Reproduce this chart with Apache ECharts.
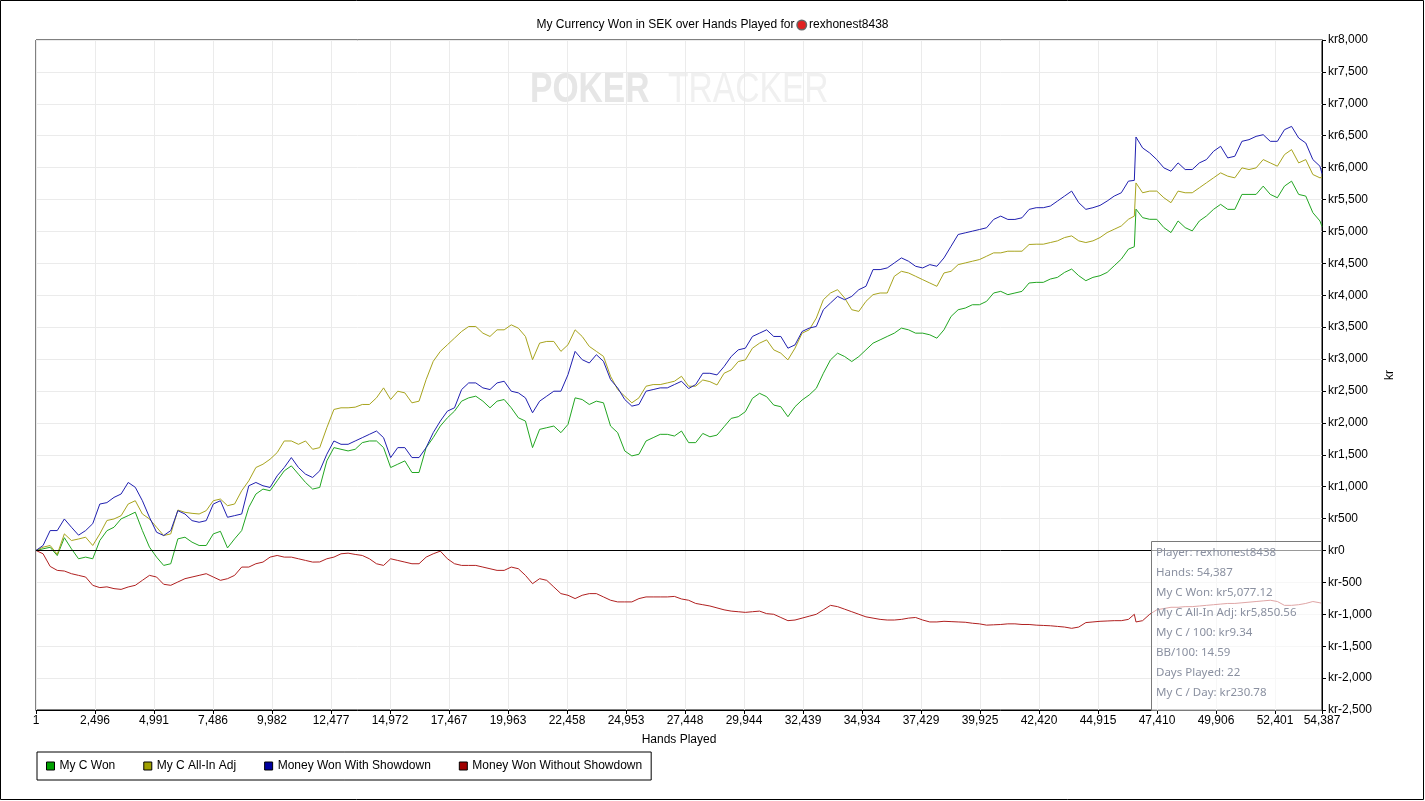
<!DOCTYPE html>
<html>
<head>
<meta charset="utf-8">
<script src="https://cdn.jsdelivr.net/npm/echarts@6/dist/echarts.min.js"></script>
<style>
html,body{margin:0;padding:0;background:#fff;}
#chart{width:1425px;height:801px;}
</style>
</head>
<body>
<div id="chart"></div>
<script>
const hands = [
1,300,600,900,1200,1500,1800,2100,2400,2700,
3000,3300,3600,3900,4200,4500,4800,5100,5400,5700,
6000,6300,6600,6900,7200,7500,7800,8100,8400,8700,
9000,9300,9600,9900,10200,10500,10800,11100,11400,11700,
12000,12300,12600,12900,13200,13500,13800,14100,14400,14700,
15000,15300,15600,15900,16200,16500,16800,17100,17400,17700,
18000,18300,18600,18900,19200,19500,19800,20100,20400,20700,
21000,21300,21600,21900,22200,22500,22800,23100,23400,23700,
24000,24300,24600,24900,25200,25500,25800,26100,26400,26700,
27000,27300,27600,27900,28200,28500,28800,29100,29400,29700,
30000,30300,30600,30900,31200,31500,31800,32100,32400,32700,
33000,33300,33600,33900,34200,34500,34800,35100,35400,35700,
36000,36300,36600,36900,37200,37500,37800,38100,38400,38700,
39000,39300,39600,39900,40200,40500,40800,41100,41400,41700,
42000,42300,42600,42900,43200,43500,43800,44100,44400,44700,
45000,45300,45600,45900,46200,46450,46520,46800,47100,47400,
47700,48000,48300,48600,48900,49200,49500,49800,50100,50400,
50700,51000,51300,51600,51900,52200,52500,52800,53100,53400,
53700,54000,54300,54387];

const myCWon = [
0,26,50,-80,200,26,-130,-104,-130,156,
310,364,495,546,600,312,52,-104,-234,-208,
182,208,130,78,78,260,300,40,182,312,
676,884,962,936,1092,1248,1326,1196,1066,962,
988,1404,1612,1586,1560,1586,1690,1716,1716,1612,
1300,1352,1404,1222,1222,1612,1768,1950,2080,2184,
2340,2392,2418,2340,2236,2340,2366,2236,2080,2028,
1612,1898,1924,1950,1846,1976,2392,2366,2288,2340,
2314,1950,1846,1560,1482,1508,1716,1768,1820,1820,
1794,1872,1690,1690,1834,1782,1808,1939,2070,2096,
2175,2384,2463,2410,2279,2253,2096,2253,2358,2437,
2541,2777,2987,3092,3039,2961,3039,3144,3249,3301,
3354,3406,3485,3458,3406,3406,3380,3327,3458,3668,
3773,3799,3851,3851,3904,4035,4061,4009,4035,4061,
4192,4202,4202,4254,4280,4358,4410,4306,4228,4280,
4306,4358,4462,4566,4722,4760,5350,5216,5190,5190,
5060,4982,5164,5060,5008,5164,5242,5346,5424,5346,
5346,5580,5580,5580,5710,5580,5528,5710,5788,5580,
5554,5294,5164,5077];

const allInAdj = [
0,52,78,-60,260,156,180,208,78,260,
470,494,545,728,780,572,494,364,234,260,
634,598,582,572,624,780,806,702,728,936,
1092,1300,1352,1430,1534,1716,1716,1664,1716,1586,
1612,1924,2210,2236,2236,2246,2288,2288,2392,2548,
2366,2496,2470,2314,2340,2678,2964,3120,3224,3328,
3432,3510,3510,3406,3354,3458,3458,3536,3484,3354,
2990,3250,3276,3276,3120,3224,3458,3354,3198,3120,
3042,2730,2522,2418,2314,2392,2574,2600,2600,2626,
2652,2730,2574,2574,2672,2646,2594,2777,2830,2961,
2987,3170,3249,3301,3144,3092,2987,3170,3406,3458,
3642,3930,4035,4087,3956,3773,3747,3904,4009,4035,
4035,4297,4375,4349,4297,4244,4192,4140,4349,4375,
4480,4506,4533,4559,4611,4664,4664,4690,4690,4690,
4795,4800,4800,4826,4852,4904,4930,4852,4826,4852,
4904,4982,5034,5086,5190,5240,5760,5606,5632,5632,
5528,5450,5632,5606,5606,5684,5762,5840,5918,5866,
5840,5996,5970,5996,6126,6074,6022,6204,6282,6074,
6126,5892,5840,5850];

const withShowdown = [
0,78,312,312,494,364,240,312,420,728,
750,832,885,1066,990,780,520,286,234,312,
624,572,468,442,468,728,780,520,546,572,
1014,1066,1014,988,1170,1300,1456,1300,1196,1144,
1248,1508,1716,1664,1664,1716,1768,1820,1872,1768,
1456,1612,1612,1456,1456,1612,1846,2028,2184,2236,
2522,2626,2626,2548,2522,2626,2652,2496,2470,2392,
2158,2340,2418,2496,2496,2756,3120,2990,2938,3068,
2964,2678,2548,2366,2262,2288,2496,2522,2548,2548,
2600,2652,2538,2600,2777,2777,2751,2882,3039,3144,
3170,3354,3406,3458,3354,3354,3170,3222,3432,3485,
3511,3773,3878,3982,3930,3982,4087,4140,4402,4402,
4428,4506,4585,4533,4454,4428,4480,4454,4585,4768,
4952,4978,5004,5030,5057,5188,5240,5188,5188,5214,
5345,5372,5372,5398,5476,5554,5632,5450,5346,5372,
5408,5476,5554,5606,5788,5800,6480,6308,6230,6126,
5996,5944,6074,5970,5970,6074,6126,6256,6334,6152,
6178,6412,6438,6490,6516,6412,6412,6594,6646,6464,
6386,6126,6022,5907];

const withoutShowdown = [
0,-52,-250,-312,-322,-364,-390,-416,-546,-582,
-570,-598,-610,-572,-546,-468,-390,-416,-530,-546,
-494,-442,-416,-390,-364,-416,-468,-442,-390,-260,
-260,-208,-182,-104,-78,-104,-104,-130,-156,-182,
-180,-130,-104,-52,-42,-62,-78,-130,-208,-234,
-130,-156,-182,-208,-208,-104,-52,-10,-130,-208,
-234,-234,-234,-260,-286,-312,-312,-260,-286,-390,
-520,-442,-468,-572,-676,-702,-754,-702,-676,-676,
-728,-780,-806,-806,-806,-754,-728,-728,-728,-728,
-720,-760,-780,-830,-850,-870,-900,-930,-950,-960,
-970,-960,-950,-990,-1000,-1050,-1100,-1090,-1060,-1030,
-1000,-930,-860,-880,-920,-960,-1000,-1040,-1060,-1080,
-1090,-1090,-1080,-1060,-1050,-1090,-1120,-1120,-1110,-1115,
-1120,-1125,-1140,-1150,-1170,-1165,-1160,-1150,-1150,-1160,
-1160,-1170,-1175,-1180,-1190,-1200,-1220,-1200,-1130,-1120,
-1110,-1105,-1100,-1100,-1080,-1000,-1120,-1100,-1000,-930,
-910,-890,-890,-880,-880,-870,-860,-850,-840,-830,
-830,-820,-810,-800,-790,-780,-800,-860,-860,-850,
-830,-800,-820,-830];

const seriesNames = ['My C Won','My C All-In Adj','Money Won With Showdown','Money Won Without Showdown'];
const lineColors = ['#22a622','#a8a41e','#2020b0','#b02020'];
const legendColors = ['#00a000','#a0a000','#0000a0','#a00000'];

const statLines = ['Player: rexhonest8438','Hands: 54,387','My C Won: kr5,077.12','My C All-In Adj: kr5,850.56','My C / 100: kr9.34','BB/100: 14.59','Days Played: 22','My C / Day: kr230.78'];

const xMin = 0, xMax = 54386, xStep = 2495.25;
const yMin = -2500, yMax = 8000, yStep = 500;

const allSeries = [myCWon, allInAdj, withShowdown, withoutShowdown];

const chart = echarts.init(document.getElementById('chart'), null, {renderer:'canvas'});

const fontFam = 'Liberation Sans, Arial, sans-serif';

const series = allSeries.map((arr, i) => ({
  name: seriesNames[i],
  type: 'line',
  data: hands.map((h, j) => [h - 1, arr[j]]),
  showSymbol: false,
  symbol: 'none',
  lineStyle: {width: 1, color: lineColors[i]},
  itemStyle: {color: legendColors[i], borderColor: '#000', borderWidth: 1},
  animation: false,
  z: 3,
  markLine: i === 0 ? {
    silent: true, symbol: 'none', animation: false,
    label: {show: false},
    lineStyle: {color: '#000', width: 1, type: 'solid'},
    data: [{yAxis: 0}]
  } : undefined
}));

const statGraphics = [{
  type: 'rect', z: 100,
  shape: {x: 1151.5, y: 541.5, width: 170, height: 169},
  style: {fill: 'rgba(255,255,255,0.6)', stroke: '#7a7a7a', lineWidth: 1}
}];
statLines.forEach((t, i) => {
  statGraphics.push({
    type: 'text', z: 101,
    style: {text: t, x: 1156, y: 553 + i * 20, fill: '#8a90a0', font: '11.5px "Noto Sans", sans-serif', textVerticalAlign: 'middle'}
  });
});

chart.setOption({
  backgroundColor: '#fff',
  animation: false,
  title: {
    text: '{a|My Currency Won in SEK over Hands Played for }{icon|}{a| rexhonest8438}',
    left: 'center', top: 14,
    textStyle: {
      fontWeight: 'normal',
      rich: {
        a: {fontSize: 12, color: '#000', fontFamily: fontFam, fontWeight: 'normal'},
        icon: {width: 8, height: 8, borderRadius: 5, borderColor: '#666', borderWidth: 1.5, backgroundColor: '#e02020'}
      }
    }
  },
  grid: {left: 36, top: 40, right: 103, bottom: 91, show: true, borderColor: '#000', borderWidth: 1, backgroundColor: 'transparent'},
  legend: {
    left: 37, top: 752,
    data: seriesNames,
    icon: 'rect', itemWidth: 8, itemHeight: 8, itemGap: 28,
    padding: [8, 9, 8, 9],
    borderColor: '#000', borderWidth: 1,
    textStyle: {fontSize: 12, color: '#000', fontFamily: fontFam},
    itemStyle: {borderColor: '#000', borderWidth: 1}
  },
  xAxis: {
    type: 'value', min: xMin, max: xMax, interval: xStep,
    name: 'Hands Played', nameLocation: 'middle', nameGap: 24,
    nameTextStyle: {fontSize: 12, color: '#000', fontFamily: fontFam},
    axisLine: {show: true, onZero: false, lineStyle: {color: '#000'}},
    axisTick: {show: true, inside: false, length: 4, lineStyle: {color: '#000'}},
    axisLabel: {color: '#000', fontSize: 12, fontFamily: fontFam, margin: 5,
      formatter: v => Math.floor(v + 1).toLocaleString('en-US')},
    splitLine: {show: true, lineStyle: {color: '#ebebeb', width: 1}}
  },
  yAxis: {
    type: 'value', position: 'right', min: yMin, max: yMax, interval: yStep,
    name: 'kr', nameLocation: 'middle', nameGap: 62, nameRotate: 90,
    nameTextStyle: {fontSize: 12, color: '#000', fontFamily: fontFam},
    axisLine: {show: true, onZero: false, lineStyle: {color: '#000'}},
    axisTick: {show: true, inside: false, length: 4, lineStyle: {color: '#000'}},
    axisLabel: {color: '#000', fontSize: 12, fontFamily: fontFam, margin: 6,
      formatter: v => 'kr' + v.toLocaleString('en-US')},
    splitLine: {show: true, lineStyle: {color: '#ebebeb', width: 1}}
  },
  graphic: [
    {type: 'text', z: 0, silent: true, scaleX: 0.8, x: 530, y: 69,
      style: {text: 'POKER', fill: '#e6e6e6', font: 'bold 42px "Liberation Sans", Arial, sans-serif'}},
    {type: 'text', z: 0, silent: true, scaleX: 0.8, x: 668, y: 69,
      style: {text: 'TRACKER', fill: '#f0f0f0', font: '42px "Liberation Sans", Arial, sans-serif'}},
    {type: 'rect', z: 200, silent: true, shape: {x: 0.5, y: 0.5, width: 1423, height: 799},
      style: {fill: 'none', stroke: '#000', lineWidth: 1}},
    ...statGraphics
  ],
  series: series
});
</script>
</body>
</html>
